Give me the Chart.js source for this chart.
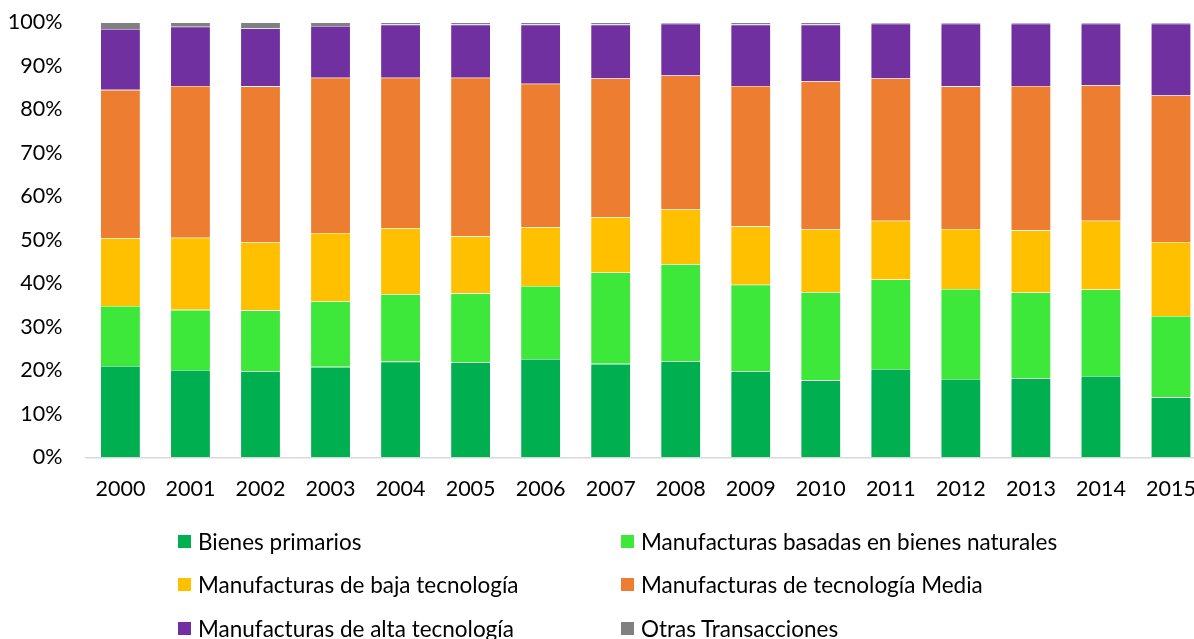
<!DOCTYPE html>
<html>
<head>
<meta charset="utf-8">
<script src="https://cdn.jsdelivr.net/npm/chart.js@4.4.1/dist/chart.umd.min.js"></script>
<style>
  html, body { margin: 0; padding: 0; background: #fff; overflow: hidden; width: 1194px; height: 639px; }
  #wrap { position: absolute; left: 0; top: 0; width: 1206px; height: 520px; }
  #legend { position: absolute; left: 0; top: 0; width: 1194px; height: 639px; pointer-events: none;
            font-family: Lato, "Open Sans", sans-serif; font-size: 22.5px; color: #000; }
  .item { position: absolute; display: flex; align-items: center; white-space: nowrap; }
  .box { width: 13px; height: 13px; margin-right: 7px; }
</style>
</head>
<body>
<div id="wrap"><canvas id="c"></canvas></div>
<div id="legend"></div>
<script>
const years = ["2000","2001","2002","2003","2004","2005","2006","2007","2008","2009","2010","2011","2012","2013","2014","2015"];
const bienesPrimarios     = [21.0,20.1,19.8,20.8,22.0,21.8,22.6,21.5,22.1,19.8,17.7,20.3,18.0,18.2,18.7,13.8];
const manufBasadas        = [13.8,13.8,14.0,15.1,15.5,15.9,16.8,21.0,22.3,19.9,20.3,20.6,20.7,19.7,19.9,18.7];
const manufBaja           = [15.6,16.6,15.6,15.7,15.2,13.1,13.5,12.7,12.6,13.4,14.4,13.5,13.8,14.3,15.8,17.0];
const manufMedia          = [34.1,34.9,35.9,35.7,34.6,36.5,33.0,31.9,30.8,32.3,34.1,32.7,32.8,33.2,31.2,33.7];
const manufAlta           = [14.0,13.6,13.3,11.9,12.2,12.2,13.6,12.4,11.9,14.1,13.0,12.6,14.4,14.3,14.1,16.5];
const otras               = [1.5,1.0,1.4,0.8,0.5,0.5,0.5,0.5,0.3,0.5,0.5,0.3,0.3,0.3,0.3,0.3];
const yTicks = [0,10,20,30,40,50,60,70,80,90,100];

const seriesNames = ["Bienes primarios","Manufacturas basadas en bienes naturales","Manufacturas de baja tecnología","Manufacturas de tecnología Media","Manufacturas de alta tecnología","Otras Transacciones"];
const seriesData = [bienesPrimarios, manufBasadas, manufBaja, manufMedia, manufAlta, otras];
const seriesColors = ["#00B050","#3DE83A","#FFC000","#ED7D31","#7030A0","#808080"];

const FONT = { family: "Lato, 'Open Sans', sans-serif", size: 21.5 };

const datasets = seriesNames.map((n, i) => ({
  label: n,
  data: seriesData[i],
  backgroundColor: seriesColors[i],
  borderColor: "rgba(255,255,255,0.35)",
  borderWidth: 0.6,
  barPercentage: 40/70,
  categoryPercentage: 1.0
}));

new Chart(document.getElementById("c"), {
  type: "bar",
  data: { labels: years, datasets },
  options: {
    responsive: true,
    maintainAspectRatio: false,
    animation: false,
    layout: { padding: { top: 22.4, right: 0, left: 0, bottom: 0 } },
    plugins: { legend: { display: false }, tooltip: { enabled: false } },
    scales: {
      x: {
        stacked: true,
        grid: { display: false, drawTicks: true, tickLength: 19 },
        border: { display: true, color: "#D9D9D9", width: 1.5 },
        ticks: { color: "#000", font: FONT, padding: 0, maxRotation: 0, autoSkip: false },
        afterFit: (s) => { s.height = 520 - 457.3; }
      },
      y: {
        stacked: true,
        min: 0, max: 100,
        afterBuildTicks: (s) => { s.ticks = yTicks.map(v => ({ value: v })); },
        grid: { display: false, drawTicks: true, tickLength: 23 },
        border: { display: false },
        ticks: { color: "#000", font: FONT, padding: 0, callback: (v) => v + "%" },
        afterFit: (s) => { s.width = 85.4; }
      }
    }
  }
});

// HTML legend in a 2-column grid
const legend = document.getElementById("legend");
const colX = [178, 621];
const rowY = [541, 584, 628];
seriesNames.forEach((n, i) => {
  const d = document.createElement("div");
  d.className = "item";
  d.style.left = colX[i % 2] + "px";
  d.style.top = (rowY[Math.floor(i / 2)] - 13) + "px";
  d.style.height = "26px";
  const b = document.createElement("span");
  b.className = "box";
  b.style.background = seriesColors[i];
  const t = document.createElement("span");
  t.textContent = n;
  d.appendChild(b); d.appendChild(t);
  legend.appendChild(d);
});
</script>
</body>
</html>
